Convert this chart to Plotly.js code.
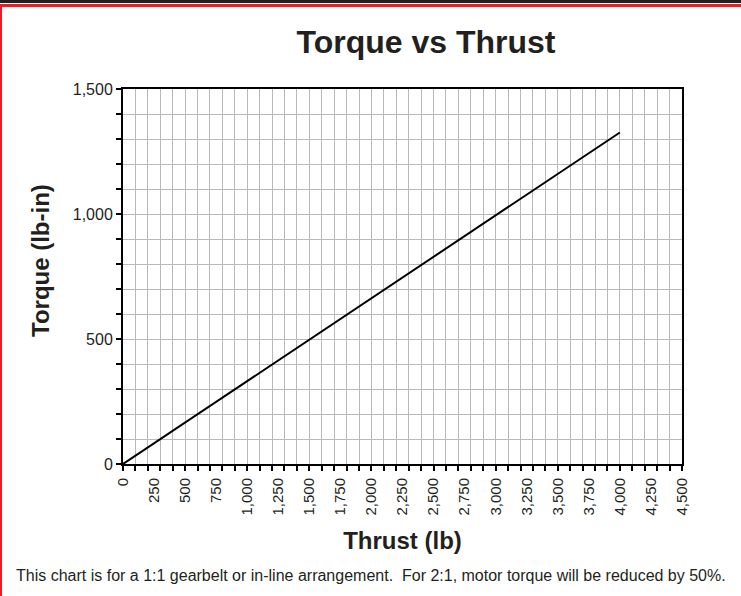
<!DOCTYPE html>
<html>
<head>
<meta charset="utf-8">
<script src="https://cdn.plot.ly/plotly-3.0.1.min.js"></script>
<style>
  html, body { margin: 0; padding: 0; background: #ffffff; }
  #wrap { position: relative; width: 741px; height: 596px; overflow: hidden; }
  #chart { position: absolute; left: 0; top: 0; width: 741px; height: 596px; }
  #topdark { position: absolute; left: 0; top: 0; width: 741px; height: 3px; background: #231f20; }
  #topred { position: absolute; left: 0; top: 4px; width: 741px; height: 3px; background: #ed1c24; }
  #leftred { position: absolute; left: 0; top: 4px; width: 2px; height: 592px; background: #ed1c24; }
</style>
</head>
<body>
<div id="wrap">
  <div id="chart"></div>
  <div id="topdark"></div>
  <div id="topred"></div>
  <div id="leftred"></div>
</div>
<script>
// Data
const thrustLb = [0, 4000];
const torqueLbIn = [0, 1326];

// Tick labels
const xTickVals = [0, 250, 500, 750, 1000, 1250, 1500, 1750, 2000, 2250, 2500, 2750, 3000, 3250, 3500, 3750, 4000, 4250, 4500];
const xTickText = ["0", "250", "500", "750", "1,000", "1,250", "1,500", "1,750", "2,000", "2,250", "2,500", "2,750", "3,000", "3,250", "3,500", "3,750", "4,000", "4,250", "4,500"];
const yTickVals = [0, 500, 1000, 1500];
const yTickText = ["0", "500", "1,000", "1,500"];

const titleText = "Torque vs Thrust";
const xTitle = "Thrust (lb)";
const yTitle = "Torque (lb-in)";
const footnote = "This chart is for a 1:1 gearbelt or in-line arrangement.&nbsp;&nbsp;For 2:1, motor torque will be reduced by 50%.";

const FONT = "Liberation Sans, Arial, sans-serif";
const gridColor = "#b9b9b9";

// plot-area pixel geometry
const M = { l: 123, r: 59, t: 89, b: 132 };
const PW = 741 - M.l - M.r;
const PH = 596 - M.t - M.b;

const trace = {
  x: thrustLb,
  y: torqueLbIn,
  type: "scatter",
  mode: "lines",
  line: { color: "#000000", width: 2 },
  hoverinfo: "skip",
  showlegend: false
};

const layout = {
  width: 741,
  height: 596,
  paper_bgcolor: "rgba(0,0,0,0)",
  plot_bgcolor: "#ffffff",
  margin: M,
  font: { family: FONT, color: "#000000" },
  title: {
    text: "<b>" + titleText + "</b>",
    font: { family: FONT, size: 32, color: "#231f20" },
    x: 0.542, xanchor: "center",
    y: 0.93, yanchor: "middle",
    xref: "paper", yref: "container"
  },
  xaxis: {
    range: [0, 4500],
    tickmode: "array",
    tickvals: xTickVals,
    ticktext: xTickText,
    tickangle: -90,
    tickfont: { family: FONT, size: 15, color: "#231f20" },
    ticks: "outside",
    ticklen: 6,
    tickcolor: "rgba(0,0,0,0)",
    showgrid: false,
    zeroline: false,
    showline: true,
    linecolor: "#000000",
    linewidth: 2,
    mirror: true,
    minor: {
      tick0: 0,
      dtick: 100,
      ticks: "outside",
      ticklen: 5,
      tickwidth: 2,
      tickcolor: "#000000",
      showgrid: true,
      gridcolor: gridColor,
      gridwidth: 1
    },
    title: {
      text: "<b>" + xTitle + "</b>",
      font: { family: FONT, size: 24, color: "#231f20" },
      standoff: 18
    },
    fixedrange: true
  },
  yaxis: {
    range: [0, 1500],
    tickmode: "array",
    tickvals: yTickVals,
    ticktext: yTickText,
    tickfont: { family: FONT, size: 16, color: "#231f20" },
    ticks: "outside",
    ticklen: 5,
    tickwidth: 2,
    tickcolor: "#000000",
    showgrid: false,
    zeroline: false,
    showline: true,
    linecolor: "#000000",
    linewidth: 2,
    mirror: true,
    minor: {
      tick0: 0,
      dtick: 100,
      ticks: "outside",
      ticklen: 5,
      tickwidth: 2,
      tickcolor: "#000000",
      showgrid: true,
      gridcolor: gridColor,
      gridwidth: 1
    },
    fixedrange: true
  },
  annotations: [
    {
      text: "<b>" + yTitle + "</b>",
      textangle: -90,
      xref: "paper", yref: "paper",
      x: (40 - M.l) / PW, xanchor: "center",
      y: (596 - M.b - 261) / PH, yanchor: "middle",
      showarrow: false,
      font: { family: FONT, size: 24, color: "#231f20" }
    },
    {
      text: footnote,
      xref: "paper", yref: "paper",
      x: (14 - M.l) / PW, xanchor: "left",
      y: (596 - M.b - 575) / PH, yanchor: "middle",
      showarrow: false,
      font: { family: FONT, size: 16, color: "#231f20" }
    }
  ]
};

Plotly.newPlot("chart", [trace], layout, { displayModeBar: false, staticPlot: true });
</script>
</body>
</html>
